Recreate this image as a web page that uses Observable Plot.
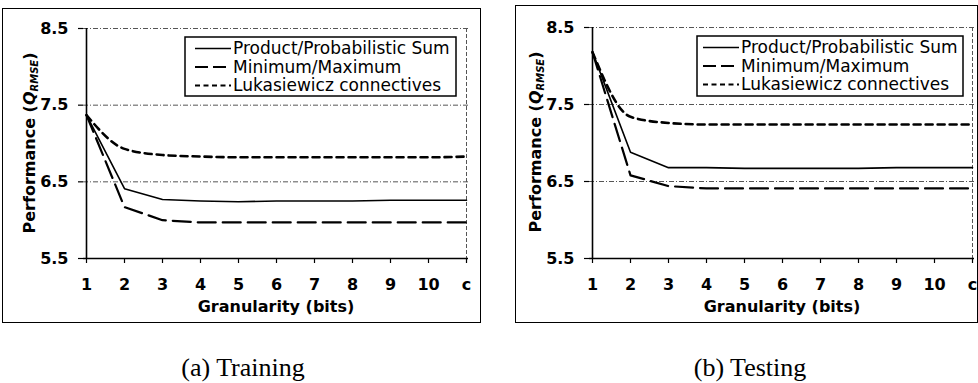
<!DOCTYPE html>
<html><head><meta charset="utf-8">
<script src="https://cdn.jsdelivr.net/npm/d3@7"></script>
<script src="https://cdn.jsdelivr.net/npm/@observablehq/plot@0.6"></script>
<style>
html,body{margin:0;padding:0;background:#fff;}
body{width:978px;height:383px;overflow:hidden;position:relative;font-family:"DejaVu Sans",sans-serif;}
.frame{position:absolute;border:1.5px solid #000;box-sizing:border-box;}
.panel{position:absolute;top:0;}
.caption{position:absolute;font-family:"Liberation Serif",serif;font-size:26px;line-height:26px;color:#000;text-align:center;width:300px;top:355px;white-space:nowrap;}
</style>
</head><body>
<div class="frame" style="left:2px;top:8px;width:479px;height:315px;"></div>
<div class="frame" style="left:515px;top:5px;width:463px;height:318px;"></div>
<div class="panel" id="p1" style="left:0px;"></div>
<div class="panel" id="p2" style="left:490px;"></div>
<div class="caption" style="left:93px;">(a) Training</div>
<div class="caption" style="left:600px;">(b) Testing</div>
<script>
const granularity = ["1","2","3","4","5","6","7","8","9","10","c"];
const seriesNames = ["Product/Probabilistic Sum","Minimum/Maximum","Lukasiewicz connectives"];
const trainProduct = [7.37,6.41,6.27,6.25,6.24,6.25,6.25,6.25,6.26,6.26,6.26];
const trainMinMax  = [7.37,6.17,6.00,5.97,5.97,5.97,5.97,5.97,5.97,5.97,5.97];
const trainLuk     = [7.37,6.93,6.85,6.83,6.82,6.82,6.82,6.82,6.82,6.82,6.83];
const testProduct  = [8.18,6.88,6.68,6.68,6.67,6.67,6.67,6.67,6.68,6.68,6.68];
const testMinMax   = [8.18,6.58,6.44,6.41,6.41,6.41,6.41,6.41,6.41,6.41,6.41];
const testLuk      = [8.18,7.34,7.26,7.24,7.24,7.24,7.24,7.24,7.24,7.24,7.24];
const yTicks = [5.5,6.5,7.5,8.5];
const gridValues = [6.5,7.5,8.5];
const xTitle = "Granularity (bits)";

const styles = [
  {strokeWidth:1.6, strokeDasharray:null, curve:"linear", sample:null},
  {strokeWidth:2.2, strokeDasharray:"18,7", curve:"linear", sample:"13,5"},
  {strokeWidth:2.6, strokeDasharray:"7,5", curve:"monotone-x", sample:"5,3.5"}
];

function toRows(arrs){
  const rows = [];
  arrs.forEach((vals, s) => vals.forEach((v, i) => rows.push({g: granularity[i], v, s})));
  return rows;
}

function makeChart(arrs, opt){
  const rows = toRows(arrs);
  const plot = Plot.plot({
    width: opt.width, height: 330,
    marginLeft: opt.ml, marginRight: opt.mr, marginTop: opt.mt, marginBottom: 72,
    style: {background:"none", overflow:"visible", fontFamily:"DejaVu Sans", fontSize:"16px", color:"#000"},
    x: {type:"point", domain: granularity, padding: 0},
    y: {domain:[5.5,8.5]},
    marks: [
      Plot.ruleY(gridValues, {stroke:"#555", strokeWidth:1, strokeDasharray:"5,2,1,2"}),
      Plot.ruleX(["c"], {stroke:"#555", strokeWidth:1, strokeDasharray:"4,2"}),
      Plot.axisY({ticks: yTicks, tickFormat: d => d.toFixed(1), tickSize:5, tickPadding:10, fontSize:16, fontWeight:"bold", label:null, stroke:"#000", strokeWidth:1.2}),
      Plot.axisX({tickSize:5, tickPadding:15, fontSize:16, fontWeight:"bold", label:null, stroke:"#000", strokeWidth:1.2}),
      Plot.ruleX(["1"], {stroke:"#000", strokeWidth:1.6}),
      Plot.ruleY([5.5], {stroke:"#000", strokeWidth:1.6}),
      ...styles.map((st, s) => Plot.line(rows.filter(r => r.s === s), {
        x:"g", y:"v", stroke:"#000", strokeWidth: st.strokeWidth,
        strokeDasharray: st.strokeDasharray, curve: st.curve
      })),
      Plot.text([xTitle], {frameAnchor:"bottom", lineAnchor:"middle", dy:48, fontSize:16, fontWeight:"bold", fill:"#000"})
    ]
  });
  const svg = d3.select(plot);
  // y-axis title with subscript
  const yl = svg.append("text")
    .attr("transform", `translate(${opt.ylx},${opt.yly}) rotate(-90)`)
    .attr("text-anchor","middle").attr("dy","0.35em")
    .attr("font-family","DejaVu Sans").attr("font-size",16).attr("font-weight","bold").attr("fill","#000");
  yl.append("tspan").text("Performance (");
  yl.append("tspan").attr("font-style","italic").text("Q");
  yl.append("tspan").attr("font-style","italic").attr("font-size",10).attr("dy","3").text("RMSE");
  yl.append("tspan").attr("dy","-3").text(")");
  // legend
  const L = opt.legend;
  const g = svg.append("g");
  g.append("rect").attr("x",L.x0).attr("y",L.y0).attr("width",L.x1-L.x0).attr("height",L.y1-L.y0)
    .attr("fill","#fff").attr("stroke","#000").attr("stroke-width",1.5);
  seriesNames.forEach((name, s) => {
    const y = L.y0 + 11.5 + s*18.5;
    const st = styles[s];
    g.append("line").attr("x1",L.lx0).attr("x2",L.lx1).attr("y1",y).attr("y2",y)
      .attr("stroke","#000").attr("stroke-width", s===0 ? 1.4 : 2.2)
      .attr("stroke-dasharray", st.sample);
    g.append("text").attr("x",L.tx).attr("y",y).attr("dy","0.35em")
      .attr("text-anchor","start")
      .attr("font-family","DejaVu Sans").attr("font-size",17).attr("font-weight","normal").attr("fill","#000")
      .text(name);
  });
  return plot;
}

document.getElementById("p1").appendChild(makeChart([trainProduct, trainMinMax, trainLuk], {
  width:490, ml:83, mr:22, mt:28, ylx:29, yly:143,
  legend:{x0:185, x1:456, y0:37, y1:96, lx0:195, lx1:231, tx:233}
}));
document.getElementById("p2").appendChild(makeChart([testProduct, testMinMax, testLuk], {
  width:488, ml:99, mr:4, mt:27, ylx:45, yly:142,
  legend:{x0:207, x1:473, y0:36, y1:96, lx0:213, lx1:249, tx:251}
}));
</script>
</body></html>
